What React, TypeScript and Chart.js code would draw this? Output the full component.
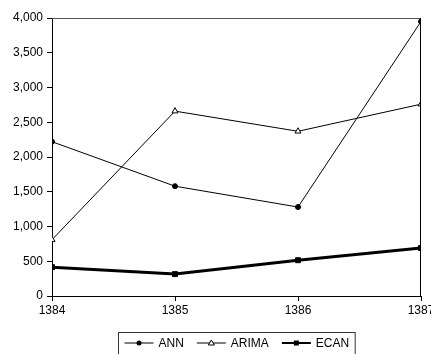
import React, { useEffect, useRef } from "react";
import { Chart, registerables } from "chart.js";

Chart.register(...registerables);

const years = ["1384", "1385", "1386", "1387"];
const annValues = [2220, 1580, 1280, 3950];
const arimaValues = [810, 2660, 2370, 2760];
const ecanValues = [415, 315, 515, 690];
const yTicks = [0, 500, 1000, 1500, 2000, 2500, 3000, 3500, 4000];

const FONT = "Arial, 'Liberation Sans', sans-serif";

const frameAndLegend = {
  id: "frameAndLegend",
  afterDraw(chart: any) {
    const { ctx, chartArea } = chart;
    const { left, right, top, bottom } = chartArea;
    ctx.save();
    ctx.lineWidth = 1;
    ctx.strokeStyle = "#555";
    ctx.beginPath();
    ctx.moveTo(left, top + 0.5);
    ctx.lineTo(right, top + 0.5);
    ctx.stroke();
    ctx.strokeStyle = "#000";
    ctx.beginPath();
    ctx.moveTo(right - 0.5, top);
    ctx.lineTo(right - 0.5, bottom);
    ctx.stroke();

    ctx.font = "12px " + FONT;
    const ds = chart.data.datasets;
    const lineLen = 29;
    const gapText = 5;
    const gapItem = 13;
    const padX = 6;
    let total = padX * 2;
    ds.forEach((d: any, i: number) => {
      total += lineLen + gapText + ctx.measureText(d.label).width;
      if (i < ds.length - 1) total += gapItem;
    });
    const cx = (left + right) / 2;
    const bx = Math.round(cx - total / 2) + 0.5;
    const by = 332.5;
    ctx.strokeStyle = "#333";
    ctx.lineWidth = 1;
    ctx.strokeRect(bx, by, total, 40);
    const cy = 343;
    let x = bx + padX;
    ds.forEach((d: any) => {
      ctx.strokeStyle = "#000";
      ctx.lineWidth = d.borderWidth > 1 ? 2 : 1;
      ctx.beginPath();
      ctx.moveTo(x, cy);
      ctx.lineTo(x + lineLen, cy);
      ctx.stroke();
      const mx = x + lineLen / 2;
      ctx.lineWidth = 1;
      if (d.pointStyle === "circle") {
        ctx.fillStyle = "#000";
        ctx.beginPath();
        ctx.arc(mx, cy, 2.5, 0, Math.PI * 2);
        ctx.fill();
      } else if (d.pointStyle === "triangle") {
        ctx.fillStyle = "#fff";
        ctx.beginPath();
        ctx.moveTo(mx, cy - 3);
        ctx.lineTo(mx + 3, cy + 2);
        ctx.lineTo(mx - 3, cy + 2);
        ctx.closePath();
        ctx.fill();
        ctx.stroke();
      } else {
        ctx.fillStyle = "#000";
        ctx.fillRect(mx - 2.5, cy - 2.5, 5, 5);
      }
      x += lineLen + gapText;
      ctx.fillStyle = "#000";
      ctx.textAlign = "left";
      ctx.textBaseline = "middle";
      ctx.fillText(d.label, x, cy + 1);
      x += ctx.measureText(d.label).width + gapItem;
    });
    ctx.restore();
  },
};

export default function App() {
  const ref = useRef<HTMLCanvasElement>(null);
  useEffect(() => {
    document.body.style.margin = "0";
    const canvas = ref.current!;
    const chart = new Chart(canvas, {
      type: "line",
      data: {
        labels: years,
        datasets: [
          {
            label: "ANN",
            data: annValues,
            borderColor: "#000",
            backgroundColor: "#000",
            borderWidth: 1,
            pointStyle: "circle",
            pointRadius: 2.5,
            pointBackgroundColor: "#000",
            pointBorderColor: "#000",
            pointBorderWidth: 1,
            tension: 0,
            clip: 0,
          },
          {
            label: "ARIMA",
            data: arimaValues,
            borderColor: "#000",
            backgroundColor: "#fff",
            borderWidth: 1,
            pointStyle: "triangle",
            pointRadius: 3.5,
            pointBackgroundColor: "#fff",
            pointBorderColor: "#000",
            pointBorderWidth: 1,
            tension: 0,
            clip: 0,
          },
          {
            label: "ECAN",
            data: ecanValues,
            borderColor: "#000",
            backgroundColor: "#000",
            borderWidth: 3,
            pointStyle: "rect",
            pointRadius: 3.5,
            pointBackgroundColor: "#000",
            pointBorderColor: "#000",
            pointBorderWidth: 1,
            tension: 0,
            clip: 0,
          },
        ],
      },
      options: {
        responsive: false,
        animation: false,
        devicePixelRatio: 1,
        layout: { padding: { top: 18, right: 10, bottom: 0, left: 0 } },
        plugins: { legend: { display: false }, tooltip: { enabled: false } },
        scales: {
          x: {
            type: "category",
            offset: false,
            grid: { drawOnChartArea: false, drawTicks: true, tickLength: 5, color: "#000" },
            border: { display: true, color: "#000", width: 1 },
            ticks: {
              color: "#000",
              font: { family: FONT, size: 12 },
              padding: 2,
              maxRotation: 0,
              autoSkip: false,
            },
            afterFit(scale: any) {
              scale.height = 58;
              scale.paddingLeft = 0;
              scale.paddingRight = 0;
            },
          },
          y: {
            min: 0,
            max: 4000,
            grid: { drawOnChartArea: false, drawTicks: true, tickLength: 5, color: "#000" },
            border: { display: true, color: "#000", width: 1 },
            ticks: {
              stepSize: 500,
              color: "#000",
              font: { family: FONT, size: 12 },
              padding: 4,
              callback: (v: any) => (yTicks.includes(Number(v)) ? Number(v).toLocaleString("en-US") : ""),
            },
            afterFit(scale: any) {
              scale.width = 52;
              scale.paddingTop = 0;
              scale.paddingBottom = 0;
            },
          },
        },
      },
      plugins: [frameAndLegend],
    });
    return () => chart.destroy();
  }, []);
  return (
    <div style={{ width: 431, height: 354 }}>
      <canvas ref={ref} width={431} height={354} style={{ display: "block" }} />
    </div>
  );
}
